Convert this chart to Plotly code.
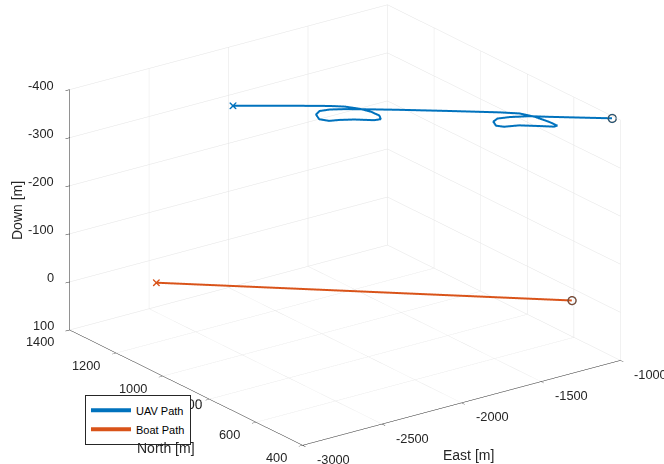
import plotly.graph_objects as go

# UAV track (East, North, Down) in metres
uav_east = [-2453, -2344, -2180, -2059, -2003, -1960, -1938, -1936, -1960, -1995,
            -2071, -2136, -2185, -2212, -2187, -2143, -2089, -2025, -1924, -1805,
            -1610, -1417, -1345, -1311, -1294, -1292, -1313, -1369, -1446, -1519,
            -1543, -1520, -1478, -1416, -1327, -1250, -1134, -1008]
uav_north = [1072, 1031, 971, 925, 899, 864, 829, 796, 774, 778,
             812, 832, 842, 866, 897, 912, 905, 885, 846, 798,
             716, 633, 597, 556, 505, 472, 471, 497, 531, 546,
             564, 591, 602, 592, 567, 533, 484, 431]
uav_down = [-397] * len(uav_east)

# Boat track (East, North, Down) in metres
boat_east = [-2652, -1101]
boat_north = [1265, 540]
boat_down = [0, 0]

east_ticks = [-3000, -2500, -2000, -1500, -1000]
north_ticks = [400, 600, 800, 1000, 1200, 1400]
down_ticks = [-400, -300, -200, -100, 0, 100]

E_RANGE = [-3000, -1000]
N_RANGE = [400, 1400]
D_RANGE = [100, -400]

# North labels that sit under the legend box are drawn by the axis itself,
# so the legend covers them; the rest are placed as scene labels.
north_native = [800]

BLUE = "#0072BD"
ORANGE = "#D95319"
TEXT = "#262626"
FONT = "Liberation Sans, Arial, Helvetica, sans-serif"
BOX = 1.70  # overall size of the plot box
TICK_FONT = dict(family=FONT, size=12.8, color=TEXT)
TITLE_FONT = dict(family=FONT, size=14, color=TEXT)

fig = go.Figure()
fig.add_trace(go.Scatter3d(x=uav_east, y=uav_north, z=uav_down, mode="lines",
                           line=dict(color=BLUE, width=4), name="UAV Path"))
fig.add_trace(go.Scatter3d(x=boat_east, y=boat_north, z=boat_down, mode="lines",
                           line=dict(color=ORANGE, width=4), name="Boat Path"))
# start (x) and end (o) markers
for xs, ys, zs, col in [(uav_east, uav_north, uav_down, BLUE),
                        (boat_east, boat_north, boat_down, ORANGE)]:
    fig.add_trace(go.Scatter3d(x=[xs[0]], y=[ys[0]], z=[zs[0]], mode="markers",
                               marker=dict(symbol="x", size=1.6, color=col), showlegend=False))
    fig.add_trace(go.Scatter3d(x=[xs[-1]], y=[ys[-1]], z=[zs[-1]], mode="markers",
                               marker=dict(symbol="circle-open", size=5, color=col, line=dict(width=2)),
                               showlegend=False))

# tick labels anchored at the tick positions on the outer box edges
tick_labels = []
for v in east_ticks:
    tick_labels.append(dict(x=v, y=N_RANGE[0], z=D_RANGE[0], text=str(v), xanchor="left",
                            yanchor="middle", xshift=12, yshift=-14))
for v in north_ticks:
    if v in north_native:
        continue
    tick_labels.append(dict(x=E_RANGE[0], y=v, z=D_RANGE[0], text=str(v), xanchor="right",
                            yanchor="middle", xshift=-14, yshift=-12))
for v in down_ticks:
    tick_labels.append(dict(x=E_RANGE[0], y=N_RANGE[1], z=v, text=str(v), xanchor="right",
                            yanchor="middle", xshift=-14, yshift=4))
for t in tick_labels:
    t.update(showarrow=False, font=TICK_FONT)

axis_common = dict(showbackground=False, gridcolor="#e3e3e3", gridwidth=1,
                   showline=True, linecolor=TEXT, linewidth=1,
                   ticks="outside", tickcolor=TEXT, ticklen=5, tickangle=0,
                   zeroline=False, showspikes=False, tickfont=TICK_FONT,
                   title=dict(text=""))

fig.update_layout(
    width=664, height=464,
    paper_bgcolor="white",
    margin=dict(l=0, r=0, t=0, b=0),
    font=dict(family=FONT),
    scene=dict(
        domain=dict(x=[0, 1], y=[0, 1]),
        xaxis=dict(range=E_RANGE, tickvals=east_ticks, showticklabels=False, **axis_common),
        yaxis=dict(range=N_RANGE, tickvals=north_ticks,
                   ticktext=[str(v) if v in north_native else "" for v in north_ticks],
                   showticklabels=True, **axis_common),
        zaxis=dict(range=D_RANGE, tickvals=down_ticks, showticklabels=False, **axis_common),
        aspectmode="manual",
        aspectratio=dict(x=1 * BOX, y=0.998 * BOX, z=0.654 * BOX),
        camera=dict(
            projection=dict(type="orthographic"),
            eye=dict(x=-0.5686 * 3, y=-0.7425 * 3, z=0.3541 * 3),
            up=dict(x=0, y=0, z=1),
            center=dict(x=-0.0517, y=0.0246, z=-0.028),
        ),
        annotations=tick_labels,
    ),
    # axis titles, drawn flat
    annotations=[
        dict(text="Down [m]", x=17 / 664, y=1 - 211 / 464, textangle=-90),
        dict(text="North [m]", x=166 / 664, y=1 - 448 / 464),
        dict(text="East [m]", x=468 / 664, y=1 - 455 / 464),
    ],
    legend=dict(x=0.128, y=0.149, xanchor="left", yanchor="top",
                bgcolor="white", bordercolor=TEXT, borderwidth=1,
                font=dict(family=FONT, size=11, color="#000000"),
                tracegroupgap=0, itemwidth=40),
)
fig.update_annotations(xref="paper", yref="paper", xanchor="center", yanchor="middle",
                       showarrow=False, font=TITLE_FONT)

fig.write_html("out.html")
